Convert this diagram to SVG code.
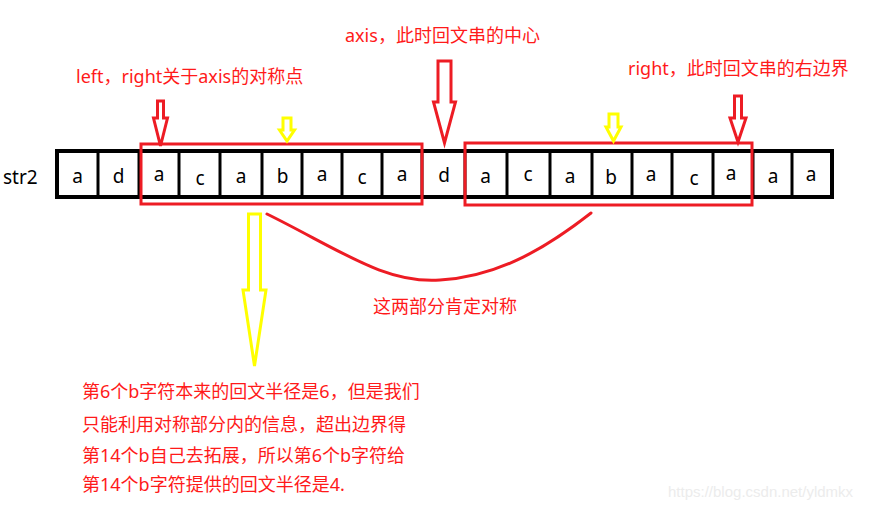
<svg xmlns="http://www.w3.org/2000/svg" width="872" height="510" viewBox="0 0 872 510">
<style>
.t{font-family:"Noto Sans","Noto Sans CJK SC",sans-serif;font-size:18px;fill:#ff1a1a}
.c{font-family:"Noto Sans","Noto Sans CJK SC",sans-serif;font-size:19px;fill:#000;text-anchor:middle}
.div{stroke:#000;stroke-width:3}
.rbox{fill:none;stroke:#ed1c24;stroke-width:3}
.ra{fill:#fff;stroke:#ed1c24;stroke-width:3;stroke-linejoin:miter}
.ya{fill:#fff;stroke:#ffff00;stroke-width:3;stroke-linejoin:miter}
.wm{font-family:"Liberation Sans",Arial,sans-serif;font-size:15px;fill:#ececec}
</style>
<rect width="872" height="510" fill="#fff"/>
<g id="label-str2"><text x="3" y="184" font-family="Noto Sans,Noto Sans CJK SC,sans-serif" font-size="19">str2</text></g>
<g id="array">
<rect x="57" y="151" width="775" height="46" fill="#fff" stroke="#000" stroke-width="4"/>
<g class="div">
<line x1="98" y1="151" x2="98" y2="197"/><line x1="139" y1="151" x2="139" y2="197"/><line x1="179" y1="151" x2="179" y2="197"/><line x1="220" y1="151" x2="220" y2="197"/><line x1="262" y1="151" x2="262" y2="197"/><line x1="302" y1="151" x2="302" y2="197"/><line x1="342" y1="151" x2="342" y2="197"/><line x1="382" y1="151" x2="382" y2="197"/><line x1="422" y1="151" x2="422" y2="197"/><line x1="465" y1="151" x2="465" y2="197"/><line x1="507" y1="151" x2="507" y2="197"/><line x1="550" y1="151" x2="550" y2="197"/><line x1="592" y1="151" x2="592" y2="197"/><line x1="632" y1="151" x2="632" y2="197"/><line x1="672" y1="151" x2="672" y2="197"/><line x1="713" y1="151" x2="713" y2="197"/><line x1="753" y1="151" x2="753" y2="197"/><line x1="792" y1="151" x2="792" y2="197"/>
</g>
<g id="cells">
<text class="c" x="77.5" y="183">a</text>
<text class="c" x="118.5" y="183">d</text>
<text class="c" x="159" y="181">a</text>
<text class="c" x="200" y="185">c</text>
<text class="c" x="241" y="183">a</text>
<text class="c" x="282.5" y="183">b</text>
<text class="c" x="322" y="181">a</text>
<text class="c" x="362" y="184">c</text>
<text class="c" x="402" y="181">a</text>
<text class="c" x="444" y="182">d</text>
<text class="c" x="485.5" y="183">a</text>
<text class="c" x="528" y="181">c</text>
<text class="c" x="570" y="183">a</text>
<text class="c" x="611" y="184">b</text>
<text class="c" x="651" y="181">a</text>
<text class="c" x="694" y="185">c</text>
<text class="c" x="731" y="180">a</text>
<text class="c" x="773" y="183">a</text>
<text class="c" x="811" y="181">a</text>
</g>
</g>
<g id="box-left"><rect class="rbox" x="141" y="144" width="281" height="60"/></g>
<g id="box-right"><rect class="rbox" x="465" y="143" width="287" height="62"/></g>
<g id="connectors">
<polygon class="ra" points="157.5,101 163.5,101 163.5,118 167.5,118 160.5,146 153.5,118 157.5,118"/>
<polygon class="ya" points="283,118 291,118 291,130 294.5,130 287,141 279.5,130 283,130"/>
<polygon class="ra" points="438,61 451,61 451,102 455.5,102 444.5,143 433.5,102 438,102"/>
<polygon class="ra" points="734.5,96 741.5,96 741.5,118 746,118 738,142 730,118 734.5,118"/>
<polygon class="ya" points="609,114 618,114 618,127 621,127 613.5,141 606,127 609,127"/>
<polygon class="ya" points="248.5,214 260.5,214 260.5,290 266,290 254.5,366 243,290 248.5,290"/>
<path d="M267,214 C340,250 385,284 440,280 C500,277 550,245 591,213" fill="none" stroke="#ed1c24" stroke-width="3" stroke-linecap="round"/>
</g>
<g id="label-axis"><text class="t" x="345" y="42">axis，此时回文串的中心</text></g>
<g id="label-left"><text class="t" x="76" y="83">left，right关于axis的对称点</text></g>
<g id="label-right"><text class="t" x="628" y="75">right，此时回文串的右边界</text></g>
<g id="label-sym"><text class="t" x="373" y="313">这两部分肯定对称</text></g>
<g id="note">
<text class="t" x="82" y="398">第6个b字符本来的回文半径是6，但是我们</text>
<text class="t" x="82" y="431">只能利用对称部分内的信息，超出边界得</text>
<text class="t" x="82" y="462">第14个b自己去拓展，所以第6个b字符给</text>
<text class="t" x="82" y="491">第14个b字符提供的回文半径是4.</text>
</g>
<text class="wm" x="668" y="497">https://blog.csdn.net/yldmkx</text>
</svg>
